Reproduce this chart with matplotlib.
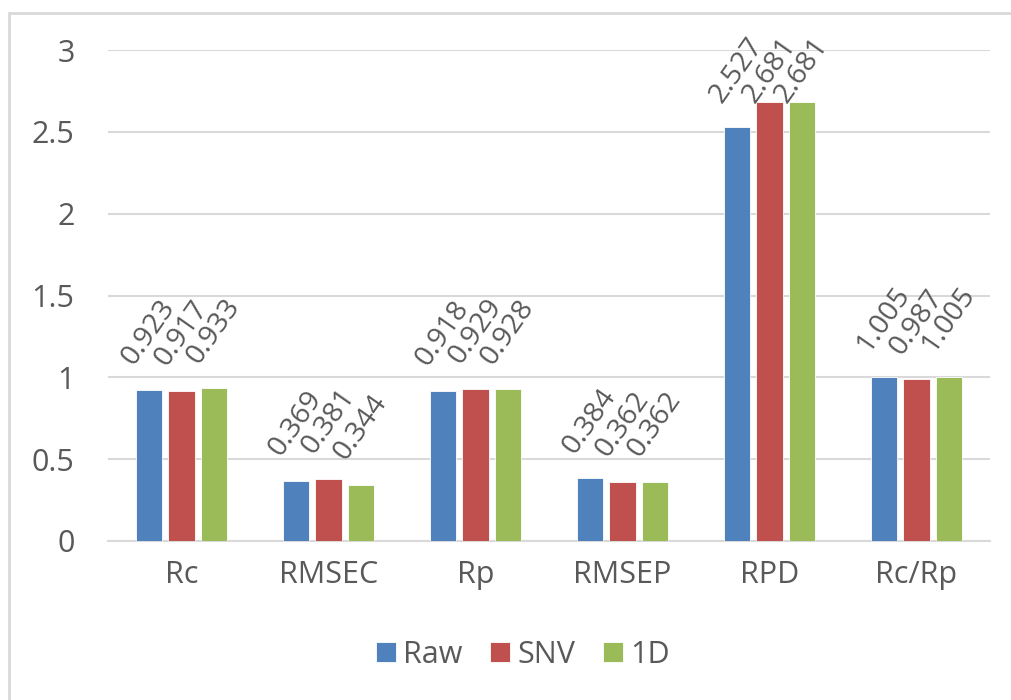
import numpy as np
import matplotlib.pyplot as plt
from matplotlib.patches import Rectangle

plt.rcParams['font.family'] = ['Open Sans', 'DejaVu Sans']

categories = ['Rc', 'RMSEC', 'Rp', 'RMSEP', 'RPD', 'Rc/Rp']
series_names = ['Raw', 'SNV', '1D']
raw = [0.923, 0.369, 0.918, 0.384, 2.527, 1.005]
snv = [0.917, 0.381, 0.929, 0.362, 2.681, 0.987]
d1 = [0.933, 0.344, 0.928, 0.362, 2.681, 1.005]
colors = ['#4F81BD', '#C0504D', '#9BBB59']
yticks = [0, 0.5, 1, 1.5, 2, 2.5, 3]

text_color = '#595959'
grid_color = '#D9D9D9'

fig = plt.figure(figsize=(10.11, 7.0), dpi=100)
ax = fig.add_axes([108 / 1011, 1 - 541 / 700, 882 / 1011, 491 / 700])

# light frame around the chart area
fig.patches.append(Rectangle((9 / 1011, -0.1), 1.2, 1 - 13 / 700 + 0.1,
                             transform=fig.transFigure, fill=False,
                             edgecolor=grid_color, linewidth=2))

x = np.arange(len(categories))
width = 0.178
step = 0.221
labels = []
for i, (name, vals) in enumerate(zip(series_names, [raw, snv, d1])):
    pos = x + (i - 1) * step
    ax.bar(pos, vals, width, color=colors[i], edgecolor='white',
           linewidth=0.6, label=name, zorder=3)
    for px, v in zip(pos, vals):
        labels.append(ax.annotate(f'{v:.3f}', (px, v), xytext=(0, 14),
                                  textcoords='offset points', rotation=55,
                                  ha='center', va='bottom', fontsize=20.5,
                                  color=text_color, annotation_clip=False))

ax.set_xlim(-0.5, len(categories) - 0.5)
ax.set_ylim(0, 3)
ax.set_yticks(yticks)
ax.set_yticklabels([f'{t:g}' for t in yticks])
ax.set_xticks(x)
ax.set_xticklabels(categories)
ax.tick_params(axis='y', length=0, pad=24, labelsize=22, labelcolor=text_color)
ax.tick_params(axis='x', length=0, pad=14, labelsize=22, labelcolor=text_color)
ax.yaxis.grid(True, color=grid_color, linewidth=1.5, zorder=0)
ax.set_axisbelow(True)
for s in ['top', 'right', 'left']:
    ax.spines[s].set_visible(False)
ax.spines['bottom'].set_color(grid_color)
ax.spines['bottom'].set_linewidth(1.5)

fig.legend(loc='center', bbox_to_anchor=(523 / 1011, 1 - 655 / 700), ncol=3,
           frameon=False, fontsize=22, labelcolor=text_color,
           handlelength=0.65, handleheight=0.65, handletextpad=0.25,
           columnspacing=0.9)

# push labels down so they stay inside the chart frame
fig.canvas.draw()
renderer = fig.canvas.get_renderer()
top_limit = fig.bbox.height - 32
for lab in labels:
    bb = lab.get_window_extent(renderer)
    if bb.y1 > top_limit:
        dx, dy = lab.xyann
        lab.xyann = (dx, dy - (bb.y1 - top_limit) * 72 / fig.dpi)

fig.savefig('out.png', dpi=100)
